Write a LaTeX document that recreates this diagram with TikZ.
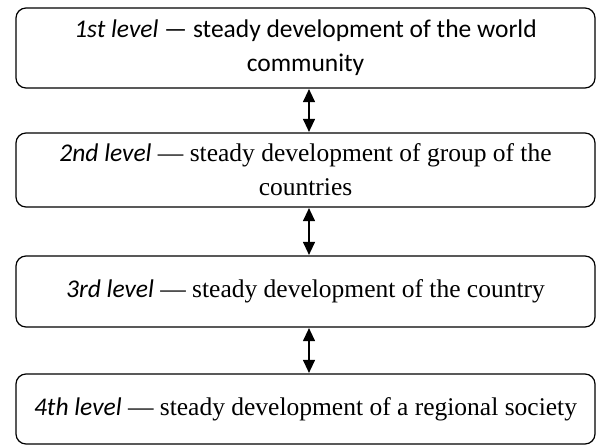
\documentclass[tikz,border=0pt]{standalone}
\usepackage{fontspec}
\setmainfont{Liberation Serif}
\newfontfamily\carlitofont{Carlito}
\usetikzlibrary{arrows.meta}
\tikzset{
  levelbox/.style={draw, line width=1.2pt, rounded corners=10pt, minimum width=579pt, align=center, inner sep=0pt, font=\fontsize{25.5}{34}\selectfont},
  link/.style={line width=1.2pt, {Triangle[width=12pt,length=13pt]}-{Triangle[width=12pt,length=13pt]}, shorten <=0.5pt, shorten >=0.5pt}
}
\begin{document}
\begin{tikzpicture}[x=1pt,y=-1pt]
\useasboundingbox (0,0) rectangle (597,447);
\node[levelbox, minimum height=80pt] (l1) at (305.5,48) {\carlitofont\textit{1st level} — steady development of the world\\\carlitofont community};
\node[levelbox, minimum height=74pt] (l2) at (305.5,170) {{\carlitofont\textit{2nd level}} — steady development of group of the\\countries};
\node[levelbox, minimum height=71pt] (l3) at (305.5,291.5) {{\carlitofont\textit{3rd level}} — steady development of the country};
\node[levelbox, minimum height=70pt] (l4) at (305.5,409) {{\carlitofont\textit{4th level}} — steady development of a regional society};
\draw[link] (l1.south -| 309,0) -- (l2.north -| 309,0);
\draw[link] (l2.south -| 309,0) -- (l3.north -| 309,0);
\draw[link] (l3.south -| 309,0) -- (l4.north -| 309,0);
\end{tikzpicture}
\end{document}
